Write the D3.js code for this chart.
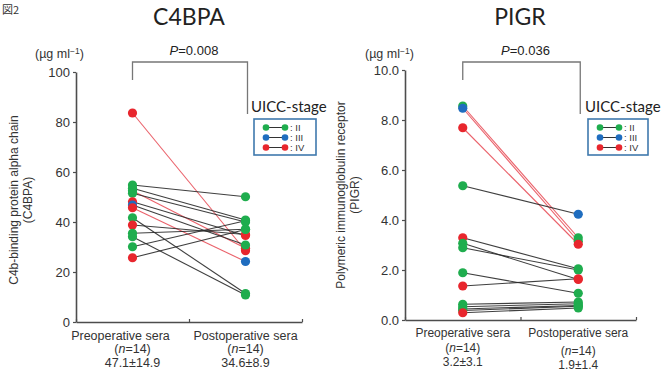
<!DOCTYPE html>
<html><head><meta charset="utf-8">
<script src="https://cdn.jsdelivr.net/npm/d3@7"></script>
<style>body{margin:0;background:#fff}svg{display:block}</style>
</head><body>
<svg id="c" width="662" height="373"></svg>
<script>
// ---- data ----
const categories = ["Preoperative sera", "Postoperative sera"];
const stageLabels = ["II", "III", "IV"];

const c4bpaPre  = [83.6, 54.8, 53.5, 52.5, 51.5, 48.1, 46.8, 45.7, 41.7, 38.8, 35.5, 34.1, 30.1, 25.7];
const c4bpaPost = [28.5, 50.1, 40.8, 29.5, 40.0, 34.6, 30.8, 24.2, 11.4, 35.0, 37.1, 10.8, 40.5, 37.0];
const c4bpaPreStage  = ["IV","II","II","II","II","IV","III","IV","II","IV","II","II","II","IV"];
const c4bpaPostStage = ["IV","II","II","IV","II","IV","II","III","II","IV","II","II","II","II"];
const c4bpaRedLine   = [1,0,0,1,0,0,0,1,0,0,0,0,0,0];
const c4bpaTicks = [0, 20, 40, 60, 80, 100];
const c4bpaSummary = ["47.1±14.9", "34.6±8.9"];
const c4bpaP = "0.008";

const pigrPre  = [8.56, 8.47, 7.69, 5.37, 3.29, 3.07, 2.89, 1.89, 1.36, 0.63, 0.53, 0.44, 0.38, 0.29];
const pigrPost = [3.29, 3.15, 3.03, 4.23, 2.05, 1.62, 2.00, 1.07, 1.65, 0.72, 0.65, 0.58, 0.55, 0.48];
const pigrPreStage  = ["II","III","IV","II","IV","II","II","II","IV","II","II","II","II","IV"];
const pigrPostStage = ["II","II","IV","III","II","IV","II","II","IV","II","II","II","II","II"];
const pigrRedLine   = [1,1,1,0,0,0,0,0,0,0,0,0,0,0];
const pigrTicks = [0, 2, 4, 6, 8, 10];
const pigrSummary = ["3.2±3.1", "1.9±1.4"];
const pigrP = "0.036";

// ---- style ----
const stageColor = {"II":"#1fad4e","III":"#1f6dbf","IV":"#e8262d"};
const axisColor = "#4d4d4d";
const sans = "'Liberation Sans', Arial, sans-serif";
const calibri = "Lato, 'Open Sans', sans-serif";

const svg = d3.select("#c");

// figure tag
svg.append("text").attr("x", 2).attr("y", 14).attr("font-family", "'Noto Sans CJK JP'")
  .attr("font-size", 11).attr("fill", "#333").text("図2");

function panel(o) {
  const g = svg.append("g");
  const x = d3.scaleLinear().domain([0, 2]).range([o.x0, o.x1]);
  const y = d3.scaleLinear().domain([0, o.ticks[o.ticks.length-1]]).range([o.y0, o.yTop]);

  // title
  g.append("text").attr("x", o.titleX).attr("y", 25).attr("text-anchor", "middle")
    .attr("font-family", calibri).attr("font-size", 23).attr("fill", "#222").text(o.title);

  // y axis
  const ya = g.append("g").attr("transform", `translate(${o.x0},0)`)
    .call(d3.axisLeft(y).tickValues(o.ticks).tickFormat(o.fmt).tickSize(3).tickSizeOuter(0).tickPadding(3));
  ya.select(".domain").attr("stroke", axisColor).attr("stroke-width", 1.6);
  ya.selectAll(".tick line").attr("stroke", axisColor).attr("stroke-width", 1.2);
  ya.selectAll(".tick text").attr("font-family", sans).attr("font-size", 13).attr("fill", "#333");

  // x axis
  const xa = g.append("g").attr("transform", `translate(0,${o.y0})`)
    .call(d3.axisBottom(x).tickValues([0, 1, 2]).tickFormat("").tickSize(-3).tickSizeOuter(0));
  xa.select(".domain").attr("stroke", axisColor).attr("stroke-width", 1.6);
  xa.selectAll(".tick line").attr("stroke", axisColor).attr("stroke-width", 1.2);

  // units
  g.append("text").attr("x", o.unitX).attr("y", 58).attr("font-family", sans)
    .attr("font-size", 12.5).attr("fill", "#333")
    .html('(µg ml<tspan dy="-4" font-size="8.5">−1</tspan><tspan dy="4">)</tspan>');

  // y label
  const yl = g.append("text").attr("transform", `translate(${o.ylabX},${o.ylabY}) rotate(-90)`)
    .attr("text-anchor", "middle").attr("font-family", sans).attr("font-size", 12).attr("fill", "#333");
  yl.append("tspan").attr("x", 0).attr("dy", 0).text(o.ylab1);
  yl.append("tspan").attr("x", 0).attr("dy", 14).text(o.ylab2);

  // p bracket
  const bx0 = x(0.5), bx1 = x(1.5) + 2;
  g.append("path").attr("d", `M${bx0},80V62H${bx1}V114`).attr("fill", "none")
    .attr("stroke", "#777").attr("stroke-width", 1.3);
  g.append("text").attr("x", (bx0 + bx1) / 2 + 4).attr("y", 55).attr("text-anchor", "middle")
    .attr("font-family", sans).attr("font-size", 13).attr("fill", "#222")
    .html(`<tspan font-style="italic">P</tspan>=${o.p}`);

  // lines
  const pre = o.pre, post = o.post;
  d3.range(pre.length).forEach(i => {
    g.append("line").attr("x1", x(0.5)).attr("y1", y(pre[i])).attr("x2", x(1.5)).attr("y2", y(post[i]))
      .attr("stroke", o.red[i] ? "#e8505a" : "#2a2a2a").attr("stroke-width", 1.1)
      .attr("stroke-opacity", 0.9);
  });
  // points
  d3.range(pre.length).forEach(i => {
    g.append("circle").attr("cx", x(0.5)).attr("cy", y(pre[i])).attr("r", 4.6).attr("fill", stageColor[o.preStage[i]]);
  });
  d3.range(post.length).forEach(i => {
    g.append("circle").attr("cx", x(1.5)).attr("cy", y(post[i])).attr("r", 4.6).attr("fill", stageColor[o.postStage[i]]);
  });

  // category labels
  [0, 1].forEach(k => {
    const cx = x(k + 0.5);
    g.append("text").attr("x", cx + (k === 0 ? o.preShift : 0)).attr("y", o.yl1).attr("text-anchor", "middle")
      .attr("font-family", sans).attr("font-size", o.fs).attr("fill", "#333").text(categories[k]);
    g.append("text").attr("x", cx).attr("y", o.yl2[k]).attr("text-anchor", "middle")
      .attr("font-family", sans).attr("font-size", o.fs).attr("fill", "#333")
      .html('(<tspan font-style="italic">n</tspan>=14)');
    g.append("text").attr("x", cx).attr("y", o.yl3[k]).attr("text-anchor", "middle")
      .attr("font-family", sans).attr("font-size", o.fs).attr("fill", "#333").text(o.summary[k]);
  });

  // legend
  g.append("text").attr("x", o.legX).attr("y", 112).attr("font-family", calibri)
    .attr("font-size", 15).attr("fill", "#222").text("UICC-stage");
  g.append("rect").attr("x", o.boxX).attr("y", 119).attr("width", o.boxW).attr("height", 36)
    .attr("fill", "#fff").attr("stroke", "#3f79ad").attr("stroke-width", 1.6);
  stageLabels.forEach((s, k) => {
    const yy = 127.5 + k * 10;
    g.append("line").attr("x1", o.dotX).attr("x2", o.dotX + 19).attr("y1", yy).attr("y2", yy)
      .attr("stroke", "#333").attr("stroke-width", 1);
    [o.dotX, o.dotX + 19].forEach(dx => g.append("circle").attr("cx", dx).attr("cy", yy).attr("r", 3.3)
      .attr("fill", stageColor[s]));
    g.append("text").attr("x", o.dotX + 24).attr("y", yy + 3.5).attr("font-family", sans)
      .attr("font-size", 9.5).attr("fill", "#333").text(": " + s);
  });
}

panel({
  title: "C4BPA", titleX: 189, x0: 76, x1: 302, y0: 322, yTop: 72, ticks: c4bpaTicks,
  fmt: d3.format("d"), unitX: 35, ylabX: 18, ylabY: 200,
  ylab1: "C4b-binding protein alpha chain", ylab2: "(C4BPA)",
  p: c4bpaP, pre: c4bpaPre, post: c4bpaPost, preStage: c4bpaPreStage, postStage: c4bpaPostStage,
  red: c4bpaRedLine, summary: c4bpaSummary, preShift: -12, fs: 12.5,
  yl1: 340, yl2: [353, 353], yl3: [367, 367],
  legX: 251, boxX: 254, boxW: 62, dotX: 266
});
panel({
  title: "PIGR", titleX: 520, x0: 405, x1: 636, y0: 320, yTop: 70, ticks: pigrTicks,
  fmt: d3.format(".1f"), unitX: 365, ylabX: 345, ylabY: 195,
  ylab1: "Polymeric immunoglobulin receptor", ylab2: "(PIGR)",
  p: pigrP, pre: pigrPre, post: pigrPost, preStage: pigrPreStage, postStage: pigrPostStage,
  red: pigrRedLine, summary: pigrSummary, preShift: 0, fs: 12,
  yl1: 337, yl2: [352, 355], yl3: [366, 369],
  legX: 585, boxX: 588, boxW: 60, dotX: 600
});
</script>
</body></html>
